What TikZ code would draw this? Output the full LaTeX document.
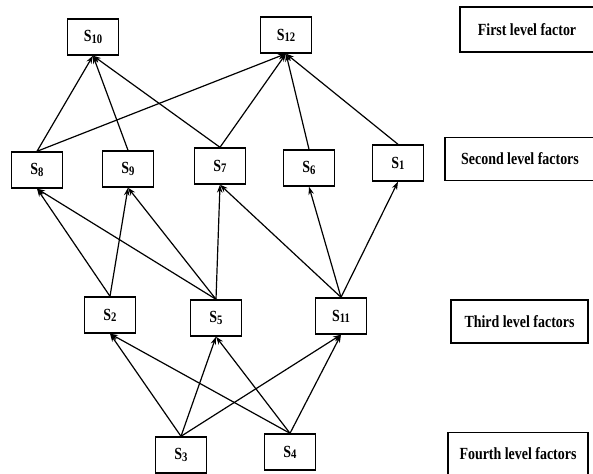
\documentclass[tikz,border=0pt]{standalone}
\usepackage{fontspec}
\setmainfont{Liberation Serif}[FakeStretch=0.82]
\usetikzlibrary{arrows.meta}
\newcommand{\sfac}[1]{S\raisebox{-1.2pt}{\fontsize{13}{13}\selectfont #1}}

\begin{document}
\begin{tikzpicture}[x=1pt,y=-1pt,>={Stealth[length=8pt,width=5.5pt]},
    font=\bfseries\fontsize{17}{20}\selectfont,
    fac/.style={draw,line width=1.4pt,minimum width=51pt,minimum height=36pt,inner sep=0pt},
    lvl/.style={draw,line width=1.4pt,minimum height=43pt,inner sep=0pt},
    link/.style={->,line width=1.2pt}]
  \useasboundingbox (0,0) rectangle (593,473);
  \clip (0,0) rectangle (593,473);
  % ---------------- factors, level by level ----------------------------
  \node[fac] (s10) at (93,37)  {\sfac{10}};
  \node[fac] (s12) at (286,35) {\sfac{12}};
  \node[fac] (s8)  at (37,170)  {\sfac{8}};
  \node[fac] (s9)  at (128,169) {\sfac{9}};
  \node[fac] (s7)  at (220,166) {\sfac{7}};
  \node[fac] (s6)  at (309,168) {\sfac{6}};
  \node[fac] (s1)  at (398,163) {\sfac{1}};
  \node[fac] (s2)  at (110,315) {\sfac{2}};
  \node[fac] (s5)  at (216,318) {\sfac{5}};
  \node[fac] (s11) at (341,316) {\sfac{11}};
  \node[fac] (s3)  at (181,455) {\sfac{3}};
  \node[fac] (s4)  at (290,452) {\sfac{4}};
  % ---------------- level captions on the right ------------------------
  \node[lvl,minimum width=134pt,minimum height=45pt] (lv1) at (527,29.5)
      {First level factor};
  \node[lvl,minimum width=150pt] (lv2) at (520,159) {Second level factors};
  \node[lvl,minimum width=137pt] (lv3) at (519.5,321.5) {Third level factors};
  \node[lvl,minimum width=140pt] (lv4) at (518,454) {Fourth level factors};
  % ---------------- influence arrows (lower level -> upper level) ------
  \foreach \a/\b in {s8/s10,s9/s10,s7/s10,s8/s12,s7/s12,s6/s12,s1/s12,
                     s2/s8,s2/s9,s5/s8,s5/s9,s5/s7,s11/s7,s11/s6,s11/s1,
                     s3/s2,s3/s5,s3/s11,s4/s2,s4/s5,s4/s11}
    \draw[link] (\a.north) -- (\b.south);
\end{tikzpicture}
\end{document}
